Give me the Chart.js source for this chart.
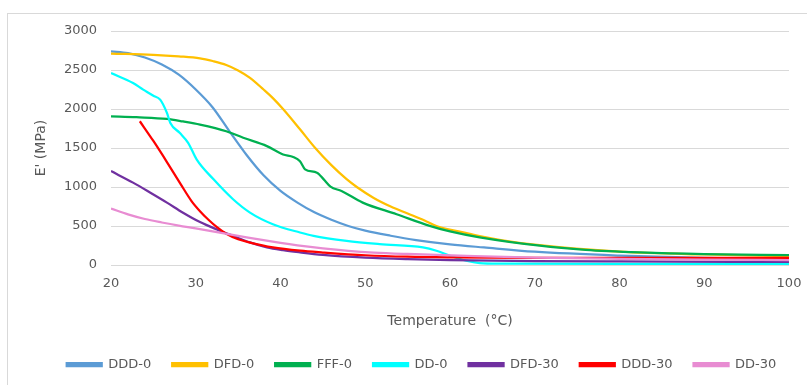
<!DOCTYPE html>
<html>
<head>
<meta charset="utf-8">
<script src="https://cdn.jsdelivr.net/npm/chart.js@4.4.1/dist/chart.umd.min.js"></script>
<style>
  html, body { margin: 0; padding: 0; background: #fff; overflow: hidden; }
  #frame { position: absolute; left: 7px; top: 13px; width: 900px; height: 500px; border: 1px solid #d9d9d9; }
  #wrap { position: absolute; left: 0; top: 0; width: 807px; height: 385px; }
</style>
</head>
<body>
<div id="frame"></div>
<div id="wrap"><canvas id="modulusChart" width="807" height="385"></canvas></div>
<script>
// storage modulus E' (MPa) vs temperature (°C)
const dddTemps = [20, 22, 24, 26, 28, 30, 32, 34, 36, 38, 40, 42, 44, 46, 48, 50, 53, 56, 60, 64, 70, 80, 90, 100];
const dddValues = [2740, 2715, 2660, 2570, 2440, 2250, 2020, 1710, 1410, 1150, 950, 800, 675, 580, 500, 440, 375, 320, 265, 225, 170, 120, 90, 75];

const dfdTemps = [20, 25, 28, 30.5, 32, 33.6, 35, 36.4, 38, 39.1, 40.3, 42.3, 44.1, 46, 47.8, 49, 51, 53, 55, 57, 58.4, 61, 63.5, 66, 70, 80, 90, 100];
const dfdValues = [2710, 2695, 2675, 2650, 2615, 2565, 2495, 2400, 2250, 2140, 2000, 1740, 1500, 1280, 1100, 1000, 860, 750, 660, 570, 500, 430, 370, 320, 260, 170, 135, 115];

const fffTemps = [20, 23, 26.6, 28.5, 30.5, 33.6, 35.6, 38.4, 40.3, 41.5, 42.3, 42.9, 44.3, 45.1, 45.9, 47.2, 49.7, 53.7, 57.6, 60, 63.5, 70.6, 76, 82.4, 90, 100];
const fffValues = [1907, 1895, 1873, 1840, 1800, 1715, 1631, 1524, 1417, 1385, 1330, 1226, 1184, 1098, 1005, 949, 800, 651, 502, 430, 354, 247, 195, 162, 140, 128];

const ddTemps = [20, 22.6, 23.8, 25, 25.8, 26.6, 27, 28.1, 29.1, 30.1, 32.1, 34.4, 36.4, 39.1, 42.3, 43.9, 47.8, 51.7, 56.8, 58.4, 60, 61.9, 63.5, 66, 80, 100];
const ddValues = [2460, 2333, 2248, 2170, 2120, 1950, 1822, 1694, 1567, 1354, 1098, 843, 672, 523, 417, 374, 310, 268, 226, 183, 119, 55, 25, 18, 15, 15];

const dfd30Temps = [20, 22.6, 24.6, 26.6, 28.5, 30.5, 32.5, 34.4, 36.4, 38.4, 40.3, 42.3, 45, 50, 55, 60, 70, 80, 100];
const dfd30Values = [1204, 1056, 930, 800, 670, 550, 455, 374, 290, 226, 190, 162, 130, 95, 75, 62, 50, 45, 40];

const ddd30Temps = [23.4, 25, 26.6, 28.2, 29.5, 30.5, 31.5, 32.5, 33.6, 35, 36.4, 39.1, 42.3, 45, 50, 55, 60, 70, 100];
const ddd30Values = [1843, 1590, 1320, 1040, 820, 690, 580, 485, 400, 330, 288, 226, 183, 160, 125, 106, 98, 92, 90];

const dd30Temps = [20, 22, 24, 26, 28, 30, 32, 34, 36, 38, 40, 42, 45, 48, 51, 55, 62, 70, 80, 90, 100];
const dd30Values = [724, 650, 590, 545, 505, 470, 432, 393, 355, 318, 283, 252, 213, 182, 160, 142, 118, 95, 80, 70, 64];

const seriesNames = ['DDD-0', 'DFD-0', 'FFF-0', 'DD-0', 'DFD-30', 'DDD-30', 'DD-30'];
const seriesTemps = [dddTemps, dfdTemps, fffTemps, ddTemps, dfd30Temps, ddd30Temps, dd30Temps];
const seriesValues = [dddValues, dfdValues, fffValues, ddValues, dfd30Values, ddd30Values, dd30Values];
const seriesColors = ['#5B9BD5', '#FFC000', '#00B050', '#00FFFF', '#7030A0', '#FF0000', '#E88CD2'];

const xTicks = { min: 20, max: 100, step: 10 };
const yTicks = { min: 0, max: 3000, step: 500 };

const textColor = '#595959';
Chart.defaults.font.family = '"DejaVu Sans", sans-serif';

const datasets = seriesNames.map((name, i) => ({
  label: name,
  data: seriesTemps[i].map((t, j) => ({ x: t, y: seriesValues[i][j] })),
  borderColor: seriesColors[i],
  backgroundColor: seriesColors[i],
  borderWidth: 2.25,
  pointRadius: 0,
  cubicInterpolationMode: 'monotone',
  order: -i  // later series drawn on top, like the original
}));

// nudge the legend to sit where it does in the original
const legendShift = {
  id: 'legendShift',
  afterLayout(chart) {
    if (chart.legend) {
      chart.legend.left += 27;
      chart.legend.right += 27;
    }
  }
};

new Chart(document.getElementById('modulusChart').getContext('2d'), {
  type: 'line',
  data: { datasets: datasets },
  plugins: [legendShift],
  options: {
    responsive: false,
    animation: false,
    layout: { padding: { left: 0, right: 18, top: 31, bottom: 4 } },
    plugins: {
      legend: {
        position: 'bottom',
        labels: {
          boxWidth: 35,
          boxHeight: 3,
          padding: 21,
          color: textColor,
          font: { size: 13 },
          sort: (a, b) => a.datasetIndex - b.datasetIndex
        }
      },
      tooltip: { enabled: false }
    },
    scales: {
      x: {
        type: 'linear',
        min: xTicks.min,
        max: xTicks.max,
        ticks: { stepSize: xTicks.step, color: textColor, font: { size: 13 }, padding: 11 },
        grid: { display: false, drawTicks: false },
        border: { display: false },
        title: {
          display: true,
          text: 'Temperature  (°C)',
          color: textColor,
          font: { size: 14 },
          padding: { top: 0, bottom: 7.6 }
        },
        afterFit(scale) {
          scale.height = 72;
          scale.paddingLeft = 0;
          scale.paddingRight = 0;
        }
      },
      y: {
        min: yTicks.min,
        max: yTicks.max,
        ticks: {
          stepSize: yTicks.step,
          color: textColor,
          font: { size: 13 },
          padding: 14,
          callback: (v) => String(v)
        },
        grid: { color: '#d9d9d9', lineWidth: 1, drawTicks: false },
        border: { display: false },
        title: {
          display: true,
          text: "E' (MPa)",
          color: textColor,
          font: { size: 14 },
          padding: { top: 33, bottom: 0 }
        },
        afterFit(scale) { scale.width = 111; }
      }
    }
  }
});
</script>
</body>
</html>
